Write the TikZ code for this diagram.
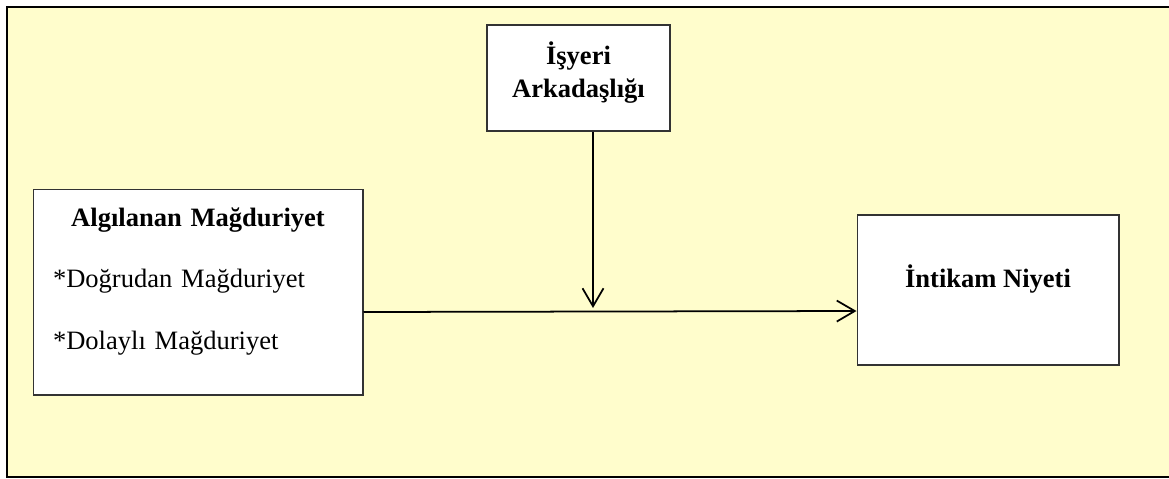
\documentclass[tikz,border=0pt]{standalone}
\usepackage{fontspec}
\setmainfont{Liberation Serif}
\usetikzlibrary{arrows.meta}
\definecolor{paleyellow}{HTML}{FFFDCC}
\definecolor{boxline}{HTML}{333333}

\begin{document}
\begin{tikzpicture}[x=0.02cm, y=-0.02cm,
    box/.style={draw=boxline, line width=0.6pt, fill=white, inner sep=0pt},
    arr/.style={line width=1pt, -{Straight Barb[length=0.36cm, width=0.42cm]}}]
    \useasboundingbox (0,0) rectangle (1169,478);

    % Draw the yellow frame
    \fill[paleyellow] (7,7) rectangle (1190,477);
    \draw[line width=1.3pt] (1190,7) -- (7,7) -- (7,477) -- (1190,477);

    % Draw the three boxes
    \node[box, minimum width=3.66cm, minimum height=2.12cm, align=center,
          font=\fontsize{15.1}{18.8}\selectfont\bfseries] (isyeri) at (578.5,78)
          {İşyeri\\Arkadaşlığı\rule[-0.33cm]{0pt}{0.33cm}};
    \node[box, minimum width=6.6cm, minimum height=4.12cm, text width=5.8cm,
          font=\fontsize{15.1}{35}\selectfont] (algilanan) at (198,292)
          {\centering\textbf{Algılanan Mağduriyet}\par
           \raggedright *Doğrudan Mağduriyet\par
           *Dolaylı Mağduriyet\rule[-0.55cm]{0pt}{0.55cm}};
    \node[box, minimum width=5.24cm, minimum height=3cm,
          font=\fontsize{15.1}{18}\selectfont\bfseries] (intikam) at (988,290)
          {İntikam Niyeti\rule[-0.57cm]{0pt}{0.57cm}};

    % Draw the moderating arrow
    \coordinate (meet) at (593,308);
    \draw[arr] (isyeri.south -| meet) -- (meet);

    % Draw the main arrow
    \draw[arr] ([yshift=-0.4cm]algilanan.east) -- ([yshift=-0.42cm]intikam.west);
\end{tikzpicture}
\end{document}
